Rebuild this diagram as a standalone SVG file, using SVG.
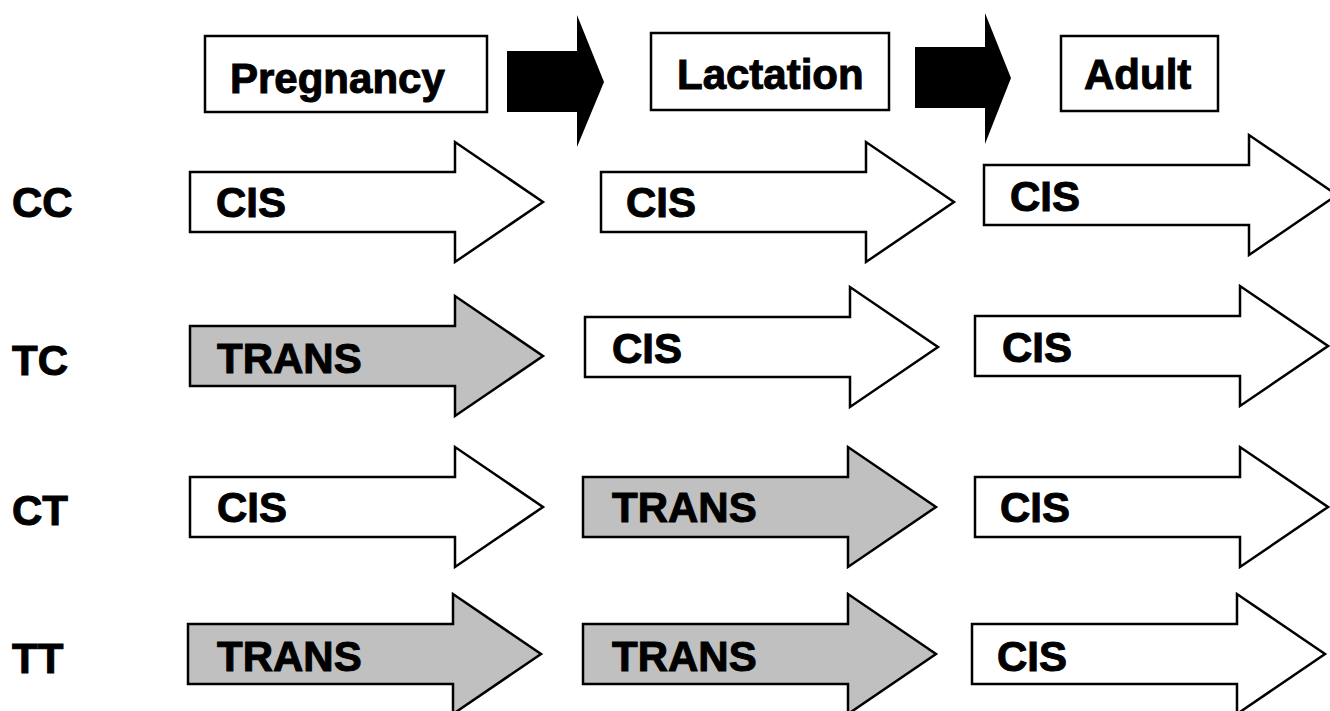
<svg xmlns="http://www.w3.org/2000/svg" width="1330" height="711" viewBox="0 0 1330 711">
<style>
  text { font-family: "Liberation Sans", Arial, sans-serif; font-weight: bold; font-size: 42px; fill: #000; stroke: #000; stroke-width: 1; }
  .box { fill: #fff; stroke: #000; stroke-width: 2.5; }
  .arrow { stroke: #000; stroke-width: 2.5; stroke-linejoin: miter; }
  .cis { fill: #fff; }
  .trans { fill: #c0c0c0; }
  .big { fill: #000; stroke: none; }
</style>
<defs>
  <path id="ar" d="M0,0 H265 V-30 L353,30 L265,90 V60 H0 Z"/>
</defs>
<rect width="1330" height="711" fill="#fff"/>

<g id="stage-pregnancy">
  <rect class="box" x="205" y="36" width="282" height="76"/>
  <text x="230" y="93">Pregnancy</text>
</g>
<g id="stage-lactation">
  <rect class="box" x="651" y="33" width="238" height="77"/>
  <text x="677" y="89">Lactation</text>
</g>
<g id="stage-adult">
  <rect class="box" x="1061" y="36" width="157" height="75"/>
  <text x="1084" y="89">Adult</text>
</g>

<g id="connectors">
  <path class="big" d="M507,51 H577 V15 L604,82 L577,147 V112 H507 Z"/>
  <path class="big" d="M915,47 H985 V13 L1011,78 L985,144 V108 H915 Z"/>
</g>

<g id="labels">
  <text x="12" y="217">CC</text>
  <text x="12" y="375">TC</text>
  <text x="12" y="525">CT</text>
  <text x="12" y="673">TT</text>
</g>

<g id="row-CC">
  <g id="cc-1"><use href="#ar" class="arrow cis" x="190" y="172"/><text x="216" y="217">CIS</text></g>
  <g id="cc-2"><use href="#ar" class="arrow cis" x="601" y="172"/><text x="626" y="217">CIS</text></g>
  <g id="cc-3"><use href="#ar" class="arrow cis" x="984" y="165"/><text x="1010" y="211">CIS</text></g>
</g>
<g id="row-TC">
  <g id="tc-1"><use href="#ar" class="arrow trans" x="190" y="326"/><text x="217" y="373">TRANS</text></g>
  <g id="tc-2"><use href="#ar" class="arrow cis" x="585" y="317"/><text x="612" y="363">CIS</text></g>
  <g id="tc-3"><use href="#ar" class="arrow cis" x="975" y="316"/><text x="1002" y="362">CIS</text></g>
</g>
<g id="row-CT">
  <g id="ct-1"><use href="#ar" class="arrow cis" x="190" y="477"/><text x="217" y="522">CIS</text></g>
  <g id="ct-2"><use href="#ar" class="arrow trans" x="583" y="477"/><text x="612" y="522">TRANS</text></g>
  <g id="ct-3"><use href="#ar" class="arrow cis" x="975" y="477"/><text x="1000" y="522">CIS</text></g>
</g>
<g id="row-TT">
  <g id="tt-1"><use href="#ar" class="arrow trans" x="188" y="624"/><text x="217" y="671">TRANS</text></g>
  <g id="tt-2"><use href="#ar" class="arrow trans" x="583" y="624"/><text x="612" y="671">TRANS</text></g>
  <g id="tt-3"><use href="#ar" class="arrow cis" x="972" y="624"/><text x="997" y="671">CIS</text></g>
</g>
</svg>
